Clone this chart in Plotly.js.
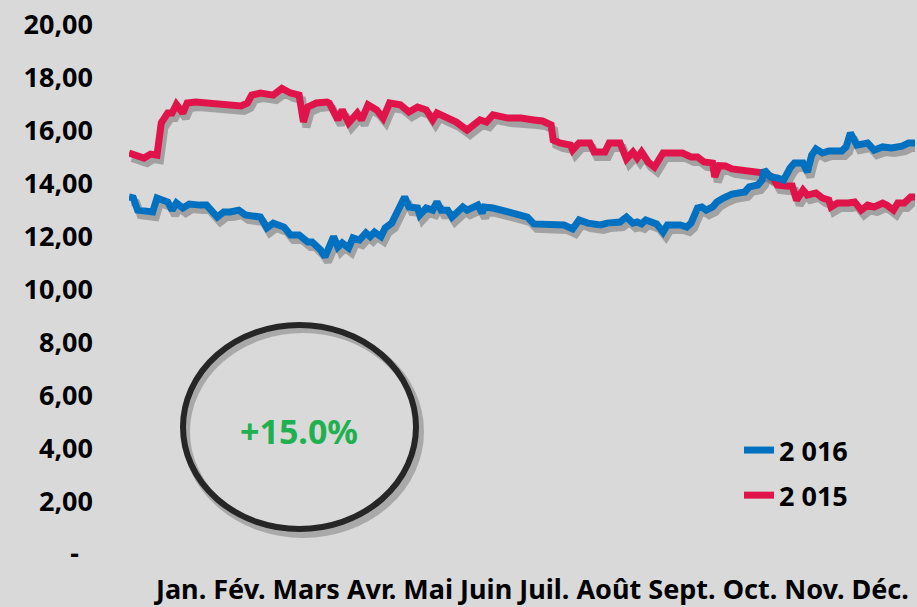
<!DOCTYPE html>
<html>
<head>
<meta charset="utf-8">
<script src="https://cdn.plot.ly/plotly-3.0.1.min.js"></script>
<style>
  html, body { margin: 0; padding: 0; background: #d9d9d9; }
  #chart { width: 917px; height: 607px; }
</style>
</head>
<body>
<div id="chart"></div>
<script>
// ---- data (day of year, value) ----
const months = ["Jan.", "Fév.", "Mars", "Avr.", "Mai", "Juin", "Juil.", "Août", "Sept.", "Oct.", "Nov.", "Déc."];
const yTickVals = [0, 2, 4, 6, 8, 10, 12, 14, 16, 18, 20];
const yTickText = ["-\u00a0\u00a0", "2,00", "4,00", "6,00", "8,00", "10,00", "12,00", "14,00", "16,00", "18,00", "20,00"];

const days2015 = [0, 3, 7, 10, 13, 15, 18, 20, 22, 25, 27, 31, 36, 42, 52, 55, 57, 61, 67, 71, 75, 79, 81, 83, 87, 92, 93, 97, 99, 102, 106, 108, 111, 115, 118, 121, 126, 130, 134, 138, 141, 143, 148, 152, 157, 160, 163, 166, 169, 176, 182, 188, 192, 196, 197, 200, 205, 206, 209, 214, 216, 221, 223, 228, 231, 234, 236, 238, 241, 244, 248, 257, 261, 264, 267, 271, 272, 274, 277, 280, 287, 295, 299, 301, 305, 308, 310, 313, 315, 319, 322, 325, 326, 329, 334, 337, 340, 343, 346, 350, 352, 355, 357, 360, 363, 365];
const vals2015 = [15.16, 15.05, 14.97, 15.12, 15.08, 16.3, 16.67, 16.67, 17.0, 16.67, 17.05, 17.09, 17.05, 16.97, 16.94, 17.05, 17.35, 17.43, 17.35, 17.6, 17.43, 17.35, 16.33, 16.9, 17.05, 17.09, 17.05, 16.41, 16.79, 16.3, 16.67, 16.41, 16.98, 16.79, 16.48, 17.05, 16.98, 16.71, 16.9, 16.79, 16.41, 16.67, 16.48, 16.33, 16.03, 16.22, 16.41, 16.33, 16.6, 16.48, 16.48, 16.41, 16.37, 16.22, 15.65, 15.54, 15.46, 15.27, 15.54, 15.54, 15.2, 15.2, 15.54, 15.54, 14.93, 15.2, 14.97, 15.2, 14.82, 14.63, 15.16, 15.16, 15.01, 15.01, 14.82, 14.78, 14.25, 14.68, 14.67, 14.56, 14.48, 14.4, 14.25, 13.95, 13.91, 13.91, 13.38, 13.76, 13.57, 13.65, 13.46, 13.38, 13.12, 13.27, 13.27, 13.31, 13.0, 13.19, 13.12, 13.27, 13.19, 13.0, 13.27, 13.27, 13.5, 13.5];

const days2016 = [0, 2, 4, 11, 13, 18, 20, 22, 25, 28, 33, 36, 41, 44, 47, 51, 54, 61, 64, 67, 72, 75, 79, 83, 85, 89, 91, 95, 97, 99, 102, 104, 107, 110, 112, 114, 117, 119, 122, 125, 128, 130, 134, 135, 138, 141, 143, 145, 148, 150, 155, 157, 162, 164, 165, 169, 173, 176, 182, 185, 188, 197, 202, 206, 209, 213, 219, 222, 228, 231, 234, 236, 238, 240, 243, 245, 248, 250, 256, 259, 261, 264, 266, 268, 271, 273, 276, 280, 286, 288, 292, 294, 295, 298, 301, 304, 307, 309, 313, 315, 317, 319, 322, 325, 331, 333, 335, 336, 338, 343, 346, 350, 354, 359, 362, 365];
const vals2016 = [13.5, 13.46, 13.0, 12.93, 13.46, 13.31, 13.0, 13.27, 13.08, 13.23, 13.19, 13.19, 12.74, 12.93, 12.93, 13.0, 12.82, 12.74, 12.33, 12.51, 12.36, 12.06, 12.06, 11.8, 11.8, 11.49, 11.23, 12.0, 11.6, 11.76, 11.57, 11.95, 11.87, 12.14, 12.0, 12.17, 12.0, 12.33, 12.51, 13.0, 13.5, 13.12, 13.08, 12.82, 13.08, 13.0, 13.31, 13.0, 13.0, 12.74, 13.12, 13.0, 13.19, 12.89, 13.12, 13.08, 13.0, 12.89, 12.82, 12.74, 12.48, 12.48, 12.44, 12.29, 12.63, 12.51, 12.44, 12.51, 12.55, 12.74, 12.51, 12.55, 12.48, 12.63, 12.55, 12.48, 12.17, 12.44, 12.44, 12.36, 12.51, 13.08, 13.12, 13.0, 13.12, 13.31, 13.46, 13.61, 13.69, 13.88, 13.95, 14.14, 14.52, 14.25, 14.22, 14.14, 14.59, 14.78, 14.78, 14.44, 15.08, 15.31, 15.16, 15.24, 15.24, 15.39, 15.92, 15.73, 15.46, 15.54, 15.27, 15.39, 15.35, 15.42, 15.54, 15.54];

const seriesNames = ["2 015", "2 016"];
const pctLabel = "+15.0%";

// ---- style / layout constants ----
const W = 917, H = 607;
const M = { l: 129, r: 2, t: 25, b: 53 };
const plotW = W - M.l - M.r, plotH = H - M.t - M.b;
const xRange = [0, 365], yRange = [0, 20];
const shadowDx = 3, shadowDy = 5; // px
const xShift = shadowDx / plotW * (xRange[1] - xRange[0]);
const yShift = shadowDy / plotH * (yRange[1] - yRange[0]);
const FONT = "Noto Sans, DejaVu Sans, sans-serif";
const RED = "#e0134a", BLUE = "#0070c0";

const shadowLine = { color: "rgba(70,70,70,0.38)", width: 8 };

const traces = [
  // shadows (base axes, shifted)
  { x: days2015, y: vals2015, xaxis: "x", yaxis: "y", mode: "lines", line: shadowLine, showlegend: false, hoverinfo: "skip" },
  { x: days2016, y: vals2016, xaxis: "x", yaxis: "y", mode: "lines", line: shadowLine, showlegend: false, hoverinfo: "skip" },
  // main lines (overlay axes, true ranges)
  { x: days2015, y: vals2015, xaxis: "x2", yaxis: "y2", mode: "lines", name: seriesNames[0],
    legendgroup: "a", legendrank: 2, line: { color: RED, width: 7 } },
  { x: days2016, y: vals2016, xaxis: "x2", yaxis: "y2", mode: "lines", name: seriesNames[1],
    legendgroup: "b", legendrank: 1, line: { color: BLUE, width: 7 } }
];

const toPX = px => (px - M.l) / plotW;       // paper x from pixel
const toPY = py => (H - M.b - py) / plotH;   // paper y from pixel

const layout = {
  width: W, height: H,
  margin: M,
  paper_bgcolor: "#d9d9d9",
  plot_bgcolor: "#d9d9d9",
  font: { family: FONT, size: 27, color: "#000", weight: 700 },
  showlegend: true,
  legend: {
    x: toPX(739), y: toPY(426), xanchor: "left", yanchor: "top",
    bgcolor: "rgba(0,0,0,0)",
    traceorder: "grouped", tracegroupgap: 7,
    font: { family: FONT, size: 27, color: "#000", weight: 700 }
  },
  xaxis: { range: [xRange[0] - xShift, xRange[1] - xShift], visible: false, fixedrange: true },
  yaxis: { range: [yRange[0] + yShift, yRange[1] + yShift], visible: false, fixedrange: true },
  xaxis2: { overlaying: "x", range: xRange, visible: false, fixedrange: true },
  yaxis2: {
    overlaying: "y", side: "left", range: yRange,
    tickvals: yTickVals, ticktext: yTickText,
    showgrid: false, zeroline: false, showline: false, ticks: "",
    ticklabelstandoff: 35,
    tickfont: { family: FONT, size: 27, color: "#000", weight: 700 },
    fixedrange: true
  },
  shapes: [
    { type: "circle", xref: "paper", yref: "paper",
      x0: toPX(186), x1: toPX(420), y0: toPY(534), y1: toPY(329),
      line: { color: "rgba(0,0,0,0.22)", width: 8 } },
    { type: "circle", xref: "paper", yref: "paper",
      x0: toPX(183), x1: toPX(416), y0: toPY(529), y1: toPY(325),
      line: { color: "#262626", width: 6 } }
  ],
  annotations: [
    { text: months.join(" "), xref: "paper", yref: "paper", x: toPX(531), y: toPY(588),
      xanchor: "center", yanchor: "middle", showarrow: false,
      font: { family: FONT, size: 27, color: "#000", weight: 700 } },
    { text: pctLabel, xref: "paper", yref: "paper", x: toPX(299), y: toPY(431),
      xanchor: "center", yanchor: "middle", showarrow: false,
      font: { family: FONT, size: 34, color: "#20b050", weight: 700 } }
  ]
};

Plotly.newPlot("chart", traces, layout, { staticPlot: true, displayModeBar: false });
</script>
</body>
</html>
